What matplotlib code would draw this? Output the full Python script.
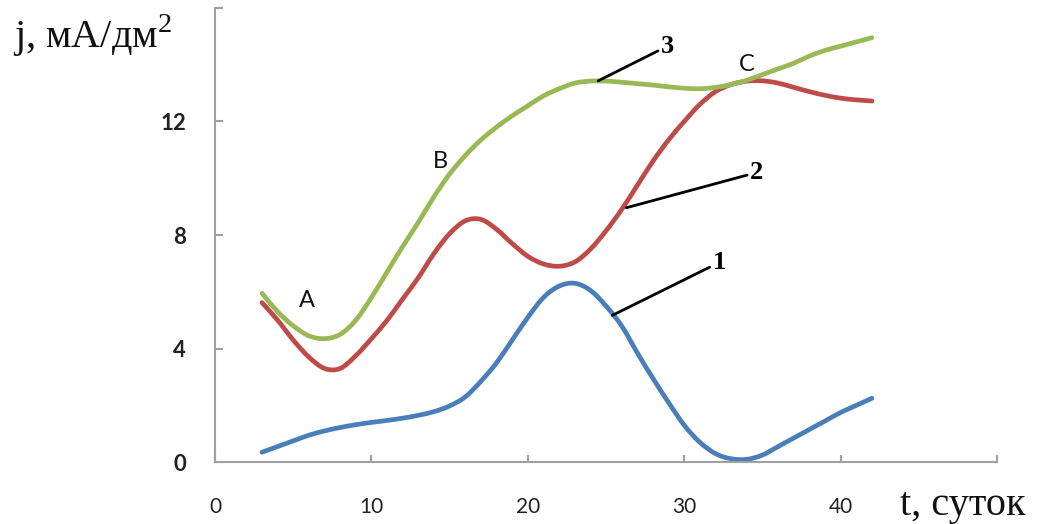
import matplotlib
matplotlib.use("Agg")
import matplotlib.pyplot as plt
from matplotlib.path import Path
from matplotlib.patches import PathPatch

plt.rcParams['mathtext.fontset'] = 'custom'
plt.rcParams['mathtext.rm'] = 'Liberation Serif'

# time, days
t = list(range(3, 43))

# current density, mA/dm2, for the three curves
j1 = [0.35, 0.55, 0.75, 0.95, 1.1, 1.22, 1.32, 1.4, 1.47, 1.55,
      1.65, 1.78, 1.98, 2.3, 2.85, 3.5, 4.3, 5.1, 5.8, 6.2,
      6.3, 6.05, 5.5, 4.8, 3.85, 2.95, 2.1, 1.3, 0.7, 0.3,
      0.12, 0.1, 0.25, 0.55, 0.85, 1.15, 1.45, 1.75, 2.0, 2.25]
j2 = [5.62, 5.0, 4.3, 3.7, 3.3, 3.3, 3.75, 4.35, 5.0, 5.75,
      6.5, 7.35, 8.05, 8.5, 8.55, 8.2, 7.7, 7.25, 6.98, 6.9,
      7.05, 7.5, 8.15, 8.9, 9.75, 10.6, 11.35, 12.0, 12.6, 13.05,
      13.3, 13.42, 13.43, 13.35, 13.2, 13.05, 12.92, 12.82, 12.76, 12.72]
j3 = [5.95, 5.3, 4.8, 4.45, 4.35, 4.5, 5.0, 5.8, 6.7, 7.6,
      8.45, 9.35, 10.15, 10.8, 11.35, 11.8, 12.2, 12.55, 12.9, 13.15,
      13.35, 13.42, 13.42, 13.38, 13.33, 13.28, 13.22, 13.17, 13.15, 13.2,
      13.3, 13.45, 13.65, 13.85, 14.05, 14.3, 14.5, 14.65, 14.8, 14.95]

xticks = [0, 10, 20, 30, 40, 50]
xlabels = ["0", "10", "20", "30", "40", ""]
yticks = [0, 4, 8, 12, 16]
ylabels = ["0", "4", "8", "12", ""]


def smooth_path(xs, ys):
    # Catmull-Rom through the points, written as cubic Bezier segments
    pts = list(zip(xs, ys))
    verts = [pts[0]]
    codes = [Path.MOVETO]
    n = len(pts)
    for i in range(n - 1):
        p0 = pts[i - 1] if i > 0 else pts[i]
        p1 = pts[i]
        p2 = pts[i + 1]
        p3 = pts[i + 2] if i + 2 < n else pts[i + 1]
        c1 = (p1[0] + (p2[0] - p0[0]) / 6, p1[1] + (p2[1] - p0[1]) / 6)
        c2 = (p2[0] - (p3[0] - p1[0]) / 6, p2[1] - (p3[1] - p1[1]) / 6)
        verts += [c1, c2, p2]
        codes += [Path.CURVE4] * 3
    return Path(verts, codes)


fig = plt.figure(figsize=(10.44, 5.24), dpi=100)
ax = fig.add_axes([0.206, 0.118, 0.749, 0.867])

for ys, col in [(j1, "#4a7ebb"), (j2, "#be4b48"), (j3, "#98b954")]:
    ax.add_patch(PathPatch(smooth_path(t, ys), fill=False, edgecolor=col,
                           lw=3.4, capstyle="round", joinstyle="round"))

ax.set_xlim(0, 50)
ax.set_ylim(0, 16)
ax.set_xticks(xticks)
ax.set_xticklabels(xlabels, fontsize=15, family="Lato", color="#222222")
ax.set_yticks(yticks)
ax.set_yticklabels(ylabels, fontsize=16, fontweight="bold", family="Lato", color="#222222")
ax.tick_params(axis="x", direction="in", length=5, width=1.5, color="#a0a0a0", pad=25)
ax.tick_params(axis="y", direction="in", length=6, width=1.5, color="#a0a0a0", pad=21)

for side in ["top", "right"]:
    ax.spines[side].set_visible(False)
for side in ["left", "bottom"]:
    ax.spines[side].set_color("#a0a0a0")
    ax.spines[side].set_linewidth(1.5)

# axis captions
fig.text(0.012, 0.908, "j, мА/дм$^\\mathrm{2}$", fontsize=29, family="Liberation Serif",
         va="baseline", color="#111111")
fig.text(0.862, 0.017, "t, суток", fontsize=29, family="Liberation Serif", va="baseline",
         color="#111111")

# points on the curves
for name, x, y in [("A", 5.9, 5.7), ("B", 14.4, 10.6), ("C", 34.0, 14.0)]:
    ax.text(x, y, name, fontsize=17, family="Lato", ha="center", va="center",
            color="#111111")

# curve numbers with leader lines
leaders = [("1", (25.4, 5.17), (31.8, 7.03)),
           ("2", (26.3, 8.96), (34.2, 10.2)),
           ("3", (24.5, 13.43), (28.5, 14.65))]
for num, start, end in leaders:
    ax.annotate(num, xy=start, xytext=end, fontsize=19, fontweight="bold",
                family="Liberation Serif", ha="left", va="center",
                arrowprops=dict(arrowstyle="-", color="black", lw=2,
                                shrinkA=0, shrinkB=0))

fig.savefig("out.png", dpi=100)
